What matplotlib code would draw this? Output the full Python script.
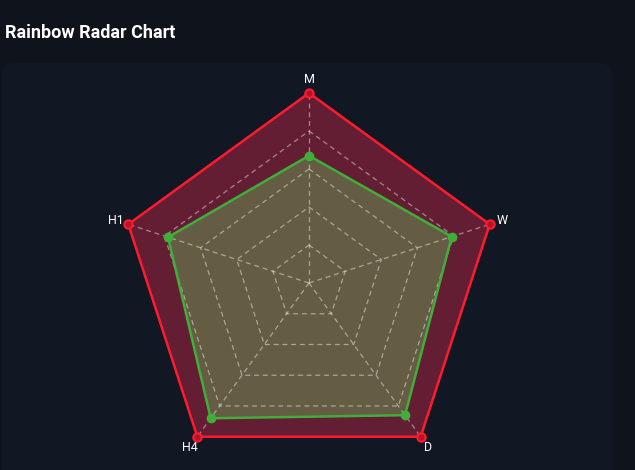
import numpy as np
import matplotlib.pyplot as plt
from matplotlib.patches import FancyBboxPatch

# Radar data
categories = ["M", "W", "D", "H4", "H1"]
red_values = [100, 100, 100, 100, 100]
green_values = [67, 79, 86, 88, 78]
grid_levels = [20, 40, 60, 80, 100]

bg = "#0e131c"
panel = "#111723"

fig = plt.figure(figsize=(6.35, 4.7), dpi=100, facecolor=bg)

# rounded card behind the chart
card = FancyBboxPatch((2 / 635, -0.05), 609 / 635, 1 - 63 / 470 + 0.05,
                      boxstyle="round,pad=0,rounding_size=0.02",
                      transform=fig.transFigure, facecolor=panel, edgecolor="none", zorder=-5)
fig.patches.append(card)

fig.text(5 / 635, 1 - 33 / 470, "Rainbow Radar Chart", color="white", fontsize=13,
         fontweight="bold", family="Roboto", ha="left", va="center")

ax = fig.add_axes([119 / 635, -3 / 470, 380 / 635, 380 / 470], projection="polar")
ax.set_facecolor("none")
ax.set_zorder(1)
ax.set_theta_offset(np.pi / 2)
ax.set_theta_direction(-1)
ax.set_ylim(0, 100)
ax.grid(False)
ax.spines["polar"].set_visible(False)
ax.set_xticks([])
ax.set_yticks([])

n = len(categories)
angles = np.linspace(0, 2 * np.pi, n, endpoint=False)
ang_c = np.append(angles, angles[0])

red_c = np.append(red_values, red_values[0])
green_c = np.append(green_values, green_values[0])

ax.fill(ang_c, red_c, color="#ff2c52", alpha=0.35, lw=0, zorder=1)
ax.fill(ang_c, green_c, color="#66d061", alpha=0.35, lw=0, zorder=2)

# pentagon grid on top of the fills
for lvl in grid_levels:
    ax.plot(ang_c, [lvl] * (n + 1), color="white", alpha=0.45, lw=0.9,
            ls=(0, (4, 3)), zorder=3)
for a in angles:
    ax.plot([a, a], [0, 100], color="white", alpha=0.45, lw=0.9,
            ls=(0, (4, 3)), zorder=3)

ax.plot(ang_c, red_c, color="#ff1a2e", lw=1.8, zorder=4, clip_on=False)
ax.plot(angles, red_values, "o", ms=6, mfc="#b01628", mec="#ff1a2e", mew=1.5,
        zorder=5, clip_on=False)
ax.plot(ang_c, green_c, color="#3fae3a", lw=1.8, zorder=4)
ax.plot(angles, green_values, "o", ms=6, color="#3fae3a", zorder=5)

for a, lab in zip(angles, categories):
    ax.text(a, 107, lab, color="white", fontsize=9, family="Roboto",
            ha="center", va="center")

fig.savefig("out.png", dpi=100, facecolor=bg)
